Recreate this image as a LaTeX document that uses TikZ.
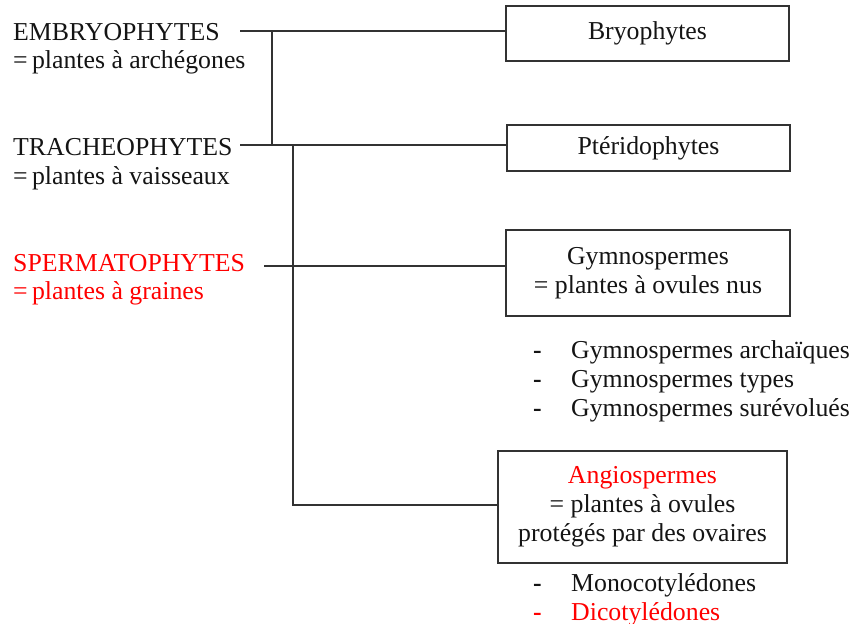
\documentclass[tikz,border=0pt]{standalone}
\usepackage{fontspec}
\setmainfont{Liberation Serif}
\definecolor{ink}{RGB}{20,20,20}
\definecolor{linecol}{RGB}{50,50,50}
\definecolor{redtxt}{RGB}{255,0,0}
\begin{document}
\begin{tikzpicture}[x=1pt,y=-1pt,
  every node/.style={font=\fontsize{25.8}{29}\selectfont, text=ink, inner sep=0pt},
  lbl/.style={anchor=base west},
  redlbl/.style={anchor=base west, text=redtxt},
  box/.style={draw=linecol, line width=1.4pt, align=center},
  conn/.style={draw=linecol, line width=1.4pt},
  dashmark/.style={anchor=base west, font=\fontsize{25.8}{29}\selectfont\bfseries}
]
\useasboundingbox (0,0) rectangle (852,624);

% left labels
\node[lbl] (emb1) at (13,40) {EMBRYOPHYTES};
\node[lbl] (emb2) at (13,68.5) {=\,plantes à archégones};
\node[lbl] (tra1) at (13,155.5) {TRACHEOPHYTES};
\node[lbl] (tra2) at (13,184) {=\,plantes à vaisseaux};
\node[redlbl] (spe1) at (13,271) {SPERMATOPHYTES};
\node[redlbl] (spe2) at (13,299.5) {=\,plantes à graines};

% boxes
\node[box, minimum width=283pt, minimum height=55pt] (bryo) at (647.5,33.5) {Bryophytes};
\node[box, minimum width=283pt, minimum height=46pt] (pter) at (648.5,148) {Ptéridophytes};
\node[box, minimum width=284pt, minimum height=86pt] (gymno) at (648,273) {Gymnospermes\\= plantes à ovules nus};
\node[box, minimum width=289pt, minimum height=112pt] (angio) at (642.5,507) {\textcolor{redtxt}{Angiospermes}\\= plantes à ovules\\protégés par des ovaires};

% connector points
\coordinate (eS) at (240,31);
\coordinate (eJ) at (272,31);
\coordinate (tS) at (240,145);
\coordinate (tJ) at (272,145);
\coordinate (tK) at (293,145);
\coordinate (sS) at (264,266);
\coordinate (aJ) at (293,505);

\draw[conn] (eS) -- (eS -| bryo.west);
\draw[conn] (tS) -- (tS -| pter.west);
\draw[conn] (eJ) -- (tJ);
\draw[conn] (tK) -- (aJ) -- (aJ -| angio.west);
\draw[conn] (sS) -- (sS -| gymno.west);

% gymnosperm list
\node[dashmark] (d1) at (533,358.5) {-};
\node[lbl] (g1) at (571,358.5) {Gymnospermes archaïques};
\node[dashmark] (d2) at (533,387.5) {-};
\node[lbl] (g2) at (571,387.5) {Gymnospermes types};
\node[dashmark] (d3) at (533,416.5) {-};
\node[lbl] (g3) at (571,416.5) {Gymnospermes surévolués};

% angiosperm list
\node[dashmark] (d4) at (533,591.5) {-};
\node[lbl] (m1) at (571,591.5) {Monocotylédones};
\node[dashmark, text=redtxt] (d5) at (533,620) {-};
\node[redlbl] (m2) at (571,620) {Dicotylédones};
\end{tikzpicture}
\end{document}
